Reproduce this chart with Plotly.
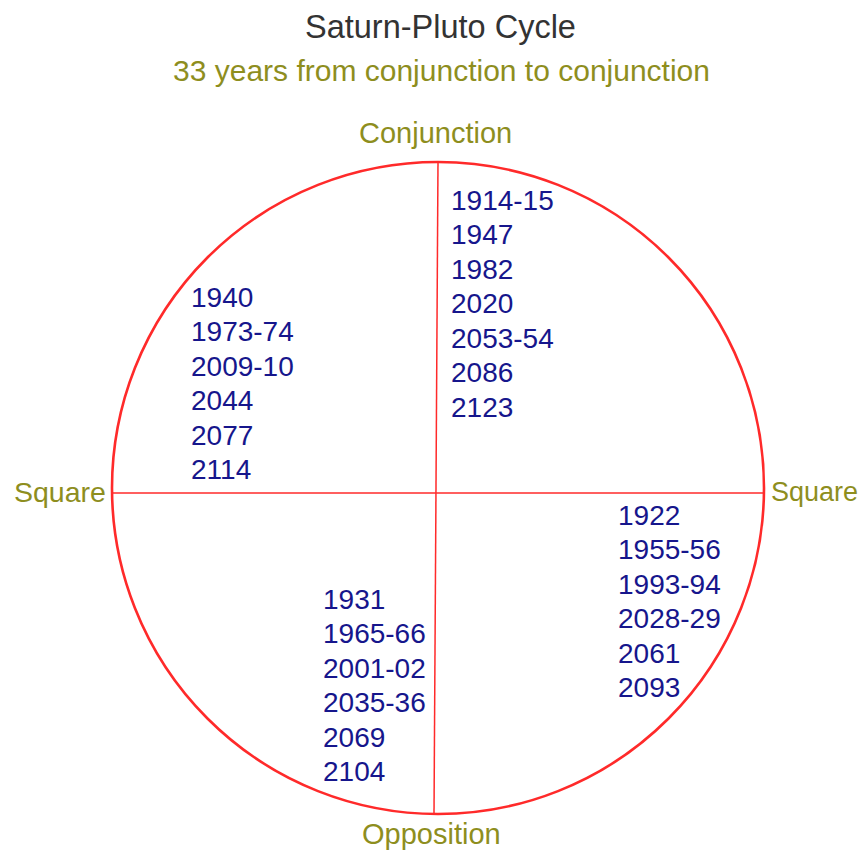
import plotly.graph_objects as go

title = "Saturn-Pluto Cycle"
subtitle = "33 years from conjunction to conjunction"
aspect_labels = ["Conjunction", "Square", "Square", "Opposition"]

years_conjunction = ["1914-15", "1947", "1982", "2020", "2053-54", "2086", "2123"]
years_waning_square = ["1940", "1973-74", "2009-10", "2044", "2077", "2114"]
years_waxing_square = ["1922", "1955-56", "1993-94", "2028-29", "2061", "2093"]
years_opposition = ["1931", "1965-66", "2001-02", "2035-36", "2069", "2104"]

PX = 326.0  # pixels per unit radius
CX, CY = 438.0, 488.0
OFF = 8  # page body margin offset
W, H = 868, 852


def ux(px):
    return (px - CX) / PX


def uy(py):
    return (CY - py) / PX


RED = "#ff2a2a"
OLIVE = "#8e8e1e"
NAVY = "#16168c"
FONT = "Liberation Sans"

fig = go.Figure()
fig.add_trace(go.Scatter(x=[0], y=[0], mode="markers", marker=dict(size=1, color="rgba(0,0,0,0)"),
                         hoverinfo="skip", showlegend=False))

shapes = [
    dict(type="circle", xref="x", yref="y", x0=-1, y0=-1, x1=1, y1=1,
         line=dict(color=RED, width=2.6)),
    dict(type="line", xref="x", yref="y", x0=-0.999, y0=uy(493), x1=0.999, y1=uy(493),
         line=dict(color=RED, width=1.5)),
    dict(type="line", xref="x", yref="y", x0=ux(438), y0=uy(161), x1=ux(434), y1=uy(815),
         line=dict(color=RED, width=1.5)),
]

ann = []
ann.append(dict(x=ux(440), y=uy(27), text=title, showarrow=False, xanchor="center", yanchor="middle",
                font=dict(family=FONT, size=32.5, color="#333333")))
ann.append(dict(x=ux(441), y=uy(70), text=subtitle, showarrow=False, xanchor="center", yanchor="middle",
                font=dict(family=FONT, size=30, color=OLIVE)))
ann.append(dict(x=ux(435), y=uy(133), text=aspect_labels[0], showarrow=False, xanchor="center", yanchor="middle",
                font=dict(family=FONT, size=29, color=OLIVE)))
ann.append(dict(x=ux(108), y=uy(492), text=aspect_labels[1], showarrow=False, xanchor="right", yanchor="middle",
                font=dict(family=FONT, size=28.5, color=OLIVE)))
ann.append(dict(x=ux(769), y=uy(492), text=aspect_labels[2], showarrow=False, xanchor="left", yanchor="middle",
                font=dict(family=FONT, size=27, color=OLIVE)))
ann.append(dict(x=ux(431), y=uy(834), text=aspect_labels[3], showarrow=False, xanchor="center", yanchor="middle",
                font=dict(family=FONT, size=29, color=OLIVE)))

SPACING = 34.5
blocks = [
    (years_conjunction, 449, 200),
    (years_waning_square, 189, 297),
    (years_waxing_square, 616, 515),
    (years_opposition, 321, 599),
]
for years, px0, py0 in blocks:
    for i, yr in enumerate(years):
        ann.append(dict(x=ux(px0), y=uy(py0 + i * SPACING), text=yr, showarrow=False,
                        xanchor="left", yanchor="middle",
                        font=dict(family=FONT, size=28, color=NAVY)))

fig.update_layout(
    width=W - OFF, height=H - OFF,
    margin=dict(l=0, r=0, t=0, b=0),
    paper_bgcolor="white", plot_bgcolor="white",
    xaxis=dict(range=[ux(OFF), ux(W)], visible=False, fixedrange=True),
    yaxis=dict(range=[uy(H), uy(OFF)], visible=False, fixedrange=True),
    shapes=shapes, annotations=ann, showlegend=False,
)
fig.write_html("out.html")
